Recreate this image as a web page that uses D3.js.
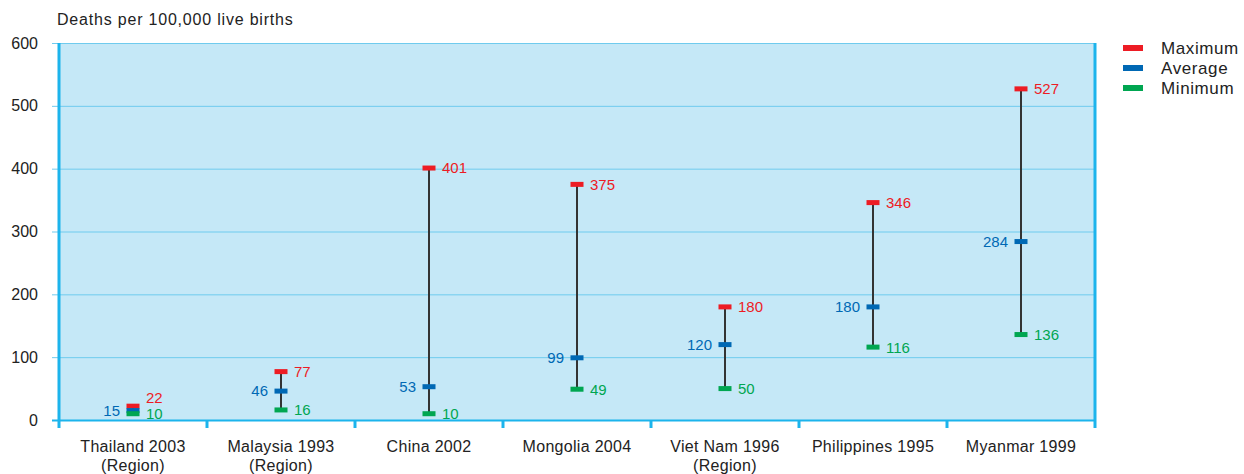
<!DOCTYPE html>
<html><head><meta charset="utf-8">
<script src="https://cdn.jsdelivr.net/npm/d3@7"></script>
<style>
body{margin:0;background:#fff;}
text{font-family:"Liberation Sans",Arial,sans-serif;}
</style></head>
<body>
<svg id="chart" width="1244" height="474"></svg>
<script>
const categories = ["Thailand 2003\n(Region)","Malaysia 1993\n(Region)","China 2002","Mongolia 2004","Viet Nam 1996\n(Region)","Philippines 1995","Myanmar 1999"];
const maxValues = [22,77,401,375,180,346,527];
const avgValues = [15,46,53,99,120,180,284];
const minValues = [10,16,10,49,50,116,136];
const yTicks = [0,100,200,300,400,500,600];
const seriesNames = ["Maximum","Average","Minimum"];
const seriesColors = ["#ed1c24","#0068b4","#00a651"];

const svg = d3.select("#chart");
const L = 59, R = 1095, T = 43, B = 420;
const x = d3.scaleBand().domain(categories).range([L, R]).padding(0);
const y = d3.scaleLinear().domain([0, 600]).range([B, T]);
const gridColor = "#6fcbee", axisColor = "#1cb4ec";

svg.append("rect").attr("x", L).attr("y", T).attr("width", R - L).attr("height", B - T).attr("fill", "#c5e8f7");

// grid + y labels
const yAxis = svg.append("g").attr("transform", `translate(${L},0)`)
  .call(d3.axisLeft(y).tickValues(yTicks).tickSize(-(R - L)).tickPadding(21).tickFormat(d3.format("d")));
yAxis.select(".domain").remove();
yAxis.selectAll(".tick line").attr("stroke", gridColor).attr("stroke-width", 1).attr("x1", -7);
yAxis.selectAll(".tick text").attr("font-size", 16).attr("fill", "#222").attr("font-family", "Liberation Sans, Arial, sans-serif");
yAxis.selectAll(".tick").filter(d => d === 0).select("line").attr("stroke", axisColor).attr("stroke-width", 2);

// category boundary ticks
const bounds = categories.map(c => x(c)).concat([R]);
svg.selectAll("line.bt").data(bounds.slice(1, -1)).enter().append("line")
  .attr("x1", d => d).attr("x2", d => d).attr("y1", B).attr("y2", B + 8)
  .attr("stroke", axisColor).attr("stroke-width", 3);
// left and right axis lines
[L, R].forEach(px => svg.append("line").attr("x1", px).attr("x2", px).attr("y1", T).attr("y2", B + 8)
  .attr("stroke", axisColor).attr("stroke-width", 3));

// category labels
categories.forEach(c => {
  const lines = c.split("\n");
  const t = svg.append("text").attr("x", x(c) + x.bandwidth() / 2).attr("y", 452)
    .attr("text-anchor", "middle").attr("font-size", 16).attr("letter-spacing", 0.3).attr("fill", "#222");
  lines.forEach((ln, i) => t.append("tspan").attr("x", x(c) + x.bandwidth() / 2).attr("dy", i ? 19 : 0).text(ln));
});

// title
svg.append("text").attr("x", 57).attr("y", 25).attr("font-size", 16).attr("letter-spacing", 0.8).attr("fill", "#222").text("Deaths per 100,000 live births");

// range lines
const cx = c => x(c) + x.bandwidth() / 2;
svg.selectAll("line.rng").data(categories).enter().append("line")
  .attr("x1", cx).attr("x2", cx)
  .attr("y1", (d, i) => y(maxValues[i])).attr("y2", (d, i) => y(minValues[i]))
  .attr("stroke", "#333").attr("stroke-width", 2);

const series = [maxValues, avgValues, minValues];
const mw = 13, mh = 5;
series.forEach((vals, s) => {
  svg.selectAll("rect.m" + s).data(categories).enter().append("rect")
    .attr("x", d => cx(d) - mw / 2).attr("y", (d, i) => y(vals[i]) - mh / 2)
    .attr("width", mw).attr("height", mh).attr("fill", seriesColors[s]);
});
// labels
series.forEach((vals, s) => {
  svg.selectAll("text.l" + s).data(categories).enter().append("text")
    .attr("x", d => s === 1 ? cx(d) - 13 : cx(d) + 13)
    .attr("y", (d, i) => {
      let yy = y(vals[i]);
      if (s === 0 && maxValues[i] - minValues[i] < 20) yy -= 9;
      return yy;
    })
    .attr("dy", "0.36em")
    .attr("text-anchor", s === 1 ? "end" : "start")
    .attr("font-size", 15).attr("fill", seriesColors[s])
    .text((d, i) => vals[i]);
});

// legend
seriesNames.forEach((n, i) => {
  const ly = 48 + i * 20;
  svg.append("rect").attr("x", 1123).attr("y", ly - 3).attr("width", 20).attr("height", 6).attr("fill", seriesColors[i]);
  svg.append("text").attr("x", 1161).attr("y", ly).attr("dy", "0.35em").attr("font-size", 17).attr("letter-spacing", 0.6).attr("fill", "#222").text(n);
});
</script>
</body></html>
